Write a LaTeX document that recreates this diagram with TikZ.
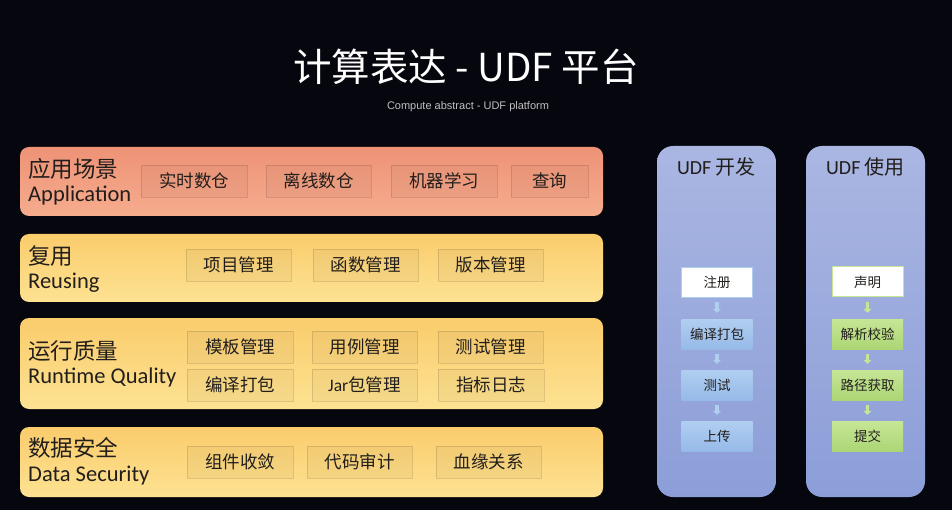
\documentclass[tikz,border=0pt]{standalone}
\usepackage{fontspec}
\setmainfont{Carlito}
\newfontfamily\cjk{Noto Sans CJK SC}
\newfontfamily\arialish{Liberation Sans}
\usetikzlibrary{arrows.meta,positioning}
\definecolor{bg}{RGB}{6,6,14}
\definecolor{apptop}{RGB}{238,146,118}
\definecolor{appbot}{RGB}{246,172,142}
\definecolor{yeltop}{RGB}{250,204,108}
\definecolor{yelbot}{RGB}{253,226,146}
\definecolor{pantop}{RGB}{170,182,226}
\definecolor{panbot}{RGB}{140,158,216}
\definecolor{bluetop}{RGB}{176,206,240}
\definecolor{bluebot}{RGB}{150,186,232}
\definecolor{greentop}{RGB}{198,230,150}
\definecolor{greenbot}{RGB}{172,214,118}
\definecolor{txt}{RGB}{34,30,28}
\tikzset{
  x=1pt,y=-1pt,
  layer/.style={rounded corners=9pt,draw=none},
  applayer/.style={layer,top color=apptop,bottom color=appbot},
  yellayer/.style={layer,top color=yeltop,bottom color=yelbot},
  cat/.style={anchor=west,text=txt,font=\cjk\fontsize{22.5}{23}\selectfont,inner sep=0pt},
  catEn/.style={anchor=west,text=txt,font=\fontsize{22.5}{24}\selectfont,inner sep=0pt},
  item/.style={draw=black,draw opacity=0.12,fill=black,fill opacity=0.03,text opacity=1,
     text=txt,font=\cjk\fontsize{17.5}{18}\selectfont,minimum height=32pt,inner sep=0pt},
  panel/.style={rounded corners=16pt,draw=none,top color=pantop,bottom color=panbot},
  ptitle/.style={text=txt,font=\cjk\fontsize{20}{21}\selectfont,inner sep=0pt},
  wbox/.style={minimum width=71pt,minimum height=30pt,inner sep=0pt,font=\cjk\fontsize{13.5}{14}\selectfont,text=txt},
  wdev/.style={wbox,fill=white,draw=bluetop},
  bdev/.style={wbox,top color=bluetop,bottom color=bluebot,draw=none},
  wuse/.style={wbox,fill=white,draw=greentop,line width=1pt},
  guse/.style={wbox,top color=greentop,bottom color=greenbot,draw=none},
  barrow/.style={line width=3.5pt,draw=bluetop,-{Triangle[width=8pt,length=4pt]},shorten <=5pt,shorten >=6pt},
  garrow/.style={line width=3.5pt,draw=greentop,-{Triangle[width=8pt,length=4pt]},shorten <=5pt,shorten >=6pt},
}
\begin{document}
\begin{tikzpicture}
\fill[bg] (0,0) rectangle (952,510);
\useasboundingbox (0,0) rectangle (952,510);

% title
\node[text=white,font=\cjk\fontsize{38.5}{40}\selectfont,inner sep=0pt] (title) at (466,67) {计算表达 - UDF 平台};
\node[text=white!75!black,font=\arialish\fontsize{11}{12}\selectfont,inner sep=0pt] (subtitle) at (468,107) {Compute abstract - UDF platform};

% layer 1
\path[applayer] (20,147) rectangle (603,216);
\node[cat] (l1a) at (28,169) {应用场景};
\node[catEn] (l1b) at (28,196) {Application};
\node[item,minimum width=106pt] (a1) at (194,181) {实时数仓};
\node[item,minimum width=105pt] (a2) at (318.5,181) {离线数仓};
\node[item,minimum width=106pt] (a3) at (444,181) {机器学习};
\node[item,minimum width=77pt] (a4) at (549.5,181) {查询};

% layer 2
\path[yellayer] (20,234) rectangle (603,302);
\node[cat] (l2a) at (28,256) {复用};
\node[catEn] (l2b) at (28,283) {Reusing};
\node[item,minimum width=105pt] (b1) at (238.5,265) {项目管理};
\node[item,minimum width=105pt] (b2) at (365.5,265) {函数管理};
\node[item,minimum width=105pt] (b3) at (490.5,265) {版本管理};

% layer 3
\path[yellayer] (20,318) rectangle (603,409);
\node[cat] (l3a) at (28,351) {运行质量};
\node[catEn] (l3b) at (28,378) {Runtime Quality};
\node[item,minimum width=106pt] (c1) at (240,347) {模板管理};
\node[item,minimum width=105pt] (c2) at (364.5,347) {用例管理};
\node[item,minimum width=105pt] (c3) at (490.5,347) {测试管理};
\node[item,minimum width=106pt] (c4) at (240,385) {编译打包};
\node[item,minimum width=105pt] (c5) at (364.5,385) {\fontspec{Carlito}Jar\cjk 包管理};
\node[item,minimum width=106pt] (c6) at (491,385) {指标日志};

% layer 4
\path[yellayer] (20,427) rectangle (603,497);
\node[cat] (l4a) at (28,448) {数据安全};
\node[catEn] (l4b) at (28,476) {Data Security};
\node[item,minimum width=106pt] (d1) at (240,462) {组件收敛};
\node[item,minimum width=105pt] (d2) at (359.5,462) {代码审计};
\node[item,minimum width=105pt] (d3) at (488.5,462) {血缘关系};

% panel dev
\path[panel] (657,146) rectangle (776,497);
\node[ptitle] (devt) at (716.5,167) {\fontspec{Carlito}UDF\cjk\ 开发};
\node[wdev] (p1) at (717,282) {注册};
\node[bdev] (p2) at (717,334) {编译打包};
\node[bdev] (p3) at (717,385) {测试};
\node[bdev] (p4) at (717,436) {上传};
\draw[barrow] (p1) -- (p2);
\draw[barrow] (p2) -- (p3);
\draw[barrow] (p3) -- (p4);

% panel use
\path[panel] (806,146) rectangle (925,497);
\node[ptitle] (uset) at (865.5,167) {\fontspec{Carlito}UDF\cjk\ 使用};
\node[wuse] (u1) at (867.5,282) {声明};
\node[guse] (u2) at (867.5,334) {解析校验};
\node[guse] (u3) at (867.5,385) {路径获取};
\node[guse] (u4) at (867.5,436) {提交};
\draw[garrow] (u1) -- (u2);
\draw[garrow] (u2) -- (u3);
\draw[garrow] (u3) -- (u4);
\end{tikzpicture}
\end{document}
